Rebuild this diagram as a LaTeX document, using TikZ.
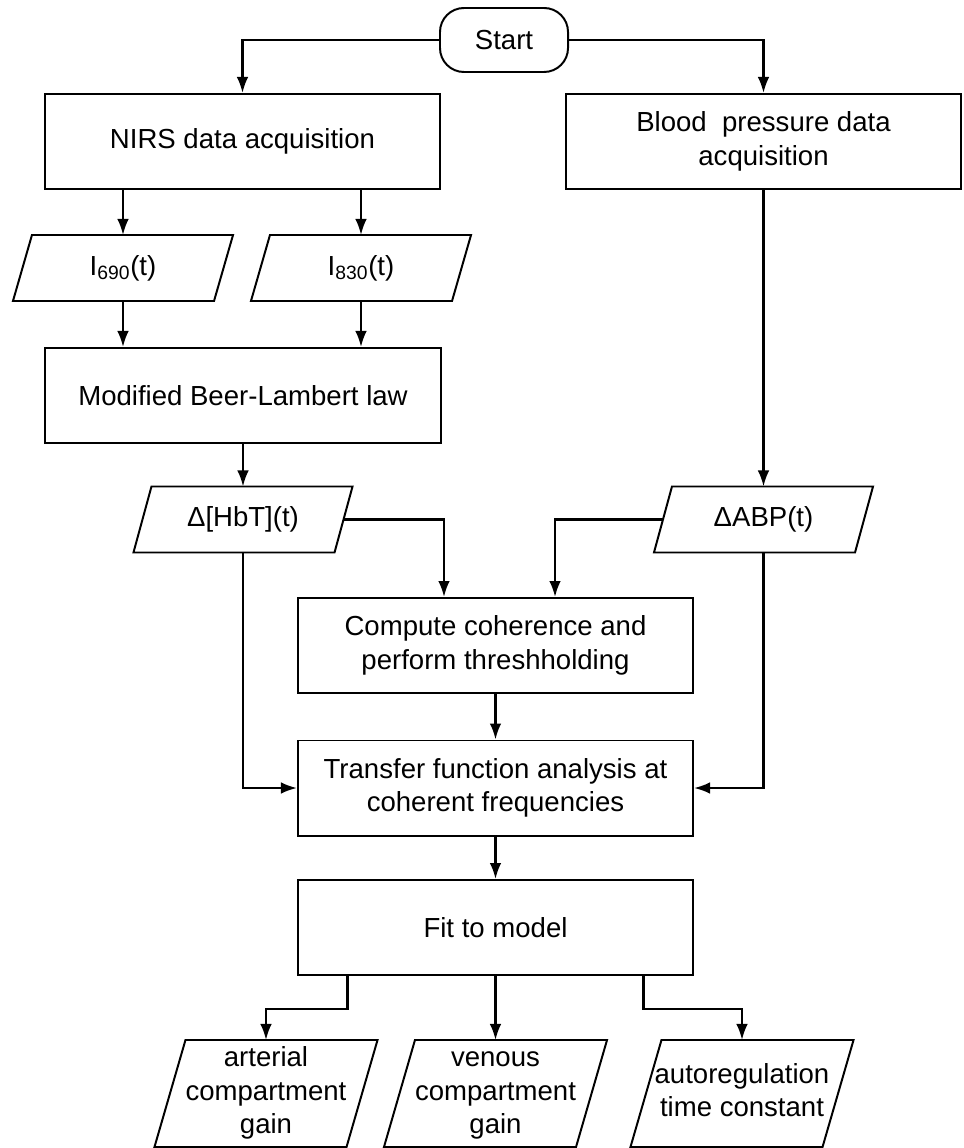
\documentclass[tikz,border=0pt]{standalone}
\usepackage{fontspec}
\setmainfont{Liberation Sans}
\usetikzlibrary{arrows.meta}
\tikzset{
  txt/.style={font=\fontsize{19.6}{23.8}\selectfont, align=center},
  procbox/.style={txt, draw, line width=1.4pt, fill=white, minimum width=9.875cm, minimum height=2.375cm, inner sep=2pt},
  startbox/.style={txt, draw, line width=1.4pt, fill=white, rounded corners=0.6cm, minimum width=3.2cm, minimum height=1.6cm, inner sep=0pt},
  iobox/.style={txt, inner sep=0pt, outer sep=0pt, minimum width=5.025cm, minimum height=1.65cm},
  outbox/.style={txt, inner sep=0pt, outer sep=0pt, minimum width=4.8cm, minimum height=2.675cm},
  boxline/.style={line width=1.4pt, line join=miter},
  conn/.style={line width=1.6pt},
  arr/.style={conn, -{Latex[length=0.4cm,width=0.29cm]}},
}
\newcommand{\paraShape}[2]{%
  \draw[boxline] ([xshift=#2]#1.north west) -- ([xshift=#2]#1.north east) -- ([xshift=-#2]#1.south east) -- ([xshift=-#2]#1.south west) -- cycle;}
\begin{document}
\begin{tikzpicture}[x=0.025cm,y=-0.025cm]
\useasboundingbox (0,0) rectangle (963,1148);
\begin{scope}
\clip (0,0) rectangle (963,1148);
% nodes
\node[startbox] (start) at (504,40) {Start};
\node[procbox] (nirs) at (242.5,141.5) {NIRS data acquisition};
\node[procbox] (bp) at (763.5,141.5) {Blood\ \ pressure data\\acquisition};
\node[iobox] (i690) at (123,268) {I\textsubscript{690}(t)};
\node[iobox] (i830) at (361,268) {I\textsubscript{830}(t)};
\node[procbox] (mbl) at (243,395.5) {Modified Beer-Lambert law};
\node[iobox] (hbt) at (243,519.5) {Δ[HbT](t)};
\node[iobox] (abp) at (763.5,519.5) {ΔABP(t)};
\node[procbox] (coh) at (495.5,645.5) {Compute coherence and\\perform threshholding};
\node[procbox] (tfa) at (495.5,788) {Transfer function analysis at\\coherent frequencies};
\node[procbox] (fit) at (495.5,927.5) {Fit to model};
\node[outbox] (out1) at (266,1093.5) {\strut arterial\\compartment\\gain\strut};
\node[outbox] (out2) at (495.5,1093.5) {\strut venous\\compartment\\gain\strut};
\node[outbox] (out3) at (742,1093.5) {\strut autoregulation\\time constant\strut};
% parallelogram outlines
\paraShape{i690}{0.2375cm}
\paraShape{i830}{0.2375cm}
\paraShape{hbt}{0.225cm}
\paraShape{abp}{0.225cm}
\paraShape{out1}{0.3875cm}
\paraShape{out2}{0.3875cm}
\paraShape{out3}{0.3875cm}
% connectors
\draw[arr] (start.west) -| (nirs.north);
\draw[arr] (start.east) -| (bp.north);
\draw[arr] (i690.north |- nirs.south) -- (i690.north);
\draw[arr] (i830.north |- nirs.south) -- (i830.north);
\draw[arr] (i690.south) -- (i690.south |- mbl.north);
\draw[arr] (i830.south) -- (i830.south |- mbl.north);
\draw[arr] (mbl.south) -- (hbt.north);
\draw[arr] (bp.south) -- (abp.north);
\draw[arr] (hbt.east) -| ([xshift=-1.2875cm]coh.north);
\draw[arr] (abp.west) -| ([xshift=1.4875cm]coh.north);
\draw[arr] (hbt.south) |- (tfa.west);
\draw[arr] (abp.south) |- (tfa.east);
\draw[arr] (coh.south) -- (tfa.north);
\draw[arr] (tfa.south) -- (fit.north);
\draw[arr] ([xshift=-3.7cm]fit.south) -- ++(0,33) -| (out1.north);
\draw[arr] (fit.south) -- (out2.north);
\draw[arr] ([xshift=3.7cm]fit.south) -- ++(0,33) -| (out3.north);
\end{scope}
\end{tikzpicture}
\end{document}
